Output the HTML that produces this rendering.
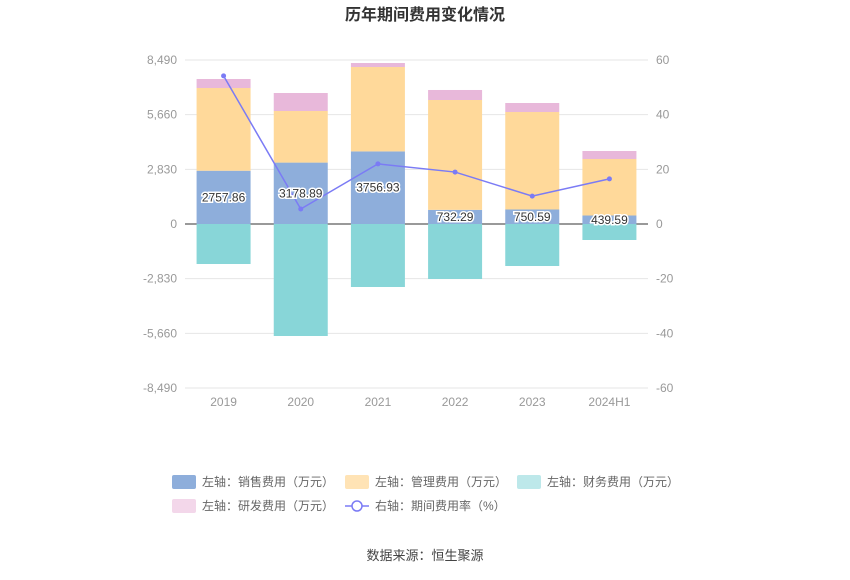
<!DOCTYPE html>
<html><head><meta charset="utf-8"><style>
body{margin:0;background:#fff;font-family:"Liberation Sans","Noto Sans CJK SC",sans-serif;}
svg text{font-family:"Liberation Sans","Noto Sans CJK SC",sans-serif;}
</style></head><body>
<svg id="c" width="850" height="575">
<text x="425" y="20" text-anchor="middle" font-size="16" font-weight="bold" fill="#333">历年期间费用变化情况</text>
<g id="grid"></g><g id="bars"></g><g id="line"></g><g id="labels"></g><g id="legend"></g>
<text x="425" y="560" text-anchor="middle" font-size="13" fill="#444">数据来源：恒生聚源</text>
</svg>
<script>
const categories=["2019","2020","2021","2022","2023","2024H1"];
const sales=[2757.86,3178.89,3756.93,732.29,750.59,439.59];
const mgmt=[4282,2671,4371,5687,5047,2925];
const finance=[-2071,-5798,-3261,-2847,-2174,-828];
const rd=[466,932,207,518,466,414];
const rate=[54.2,5.5,22,19,10.2,16.5];
const leftTicks=[8490,5660,2830,0,-2830,-5660,-8490];
const rightTicks=[60,40,20,0,-20,-40,-60];
const NS="http://www.w3.org/2000/svg";
const X0=185,X1=648,Y0=224,H=164;
const yL=v=>Y0-v/8490*H, yR=v=>Y0-v/60*H;
const step=(X1-X0)/categories.length, xC=i=>X0+step*(i+0.5), bw=54;
function mk(p,tag,a){const e=document.createElementNS(NS,tag);for(const k in a)e.setAttribute(k,a[k]);p.appendChild(e);return e;}
const g=document.getElementById('grid'),b=document.getElementById('bars'),l=document.getElementById('line'),lb=document.getElementById('labels'),lg=document.getElementById('legend');
leftTicks.forEach((t,i)=>{const y=yL(t);
 const ln=mk(g,'line',{x1:X0,x2:X1,y1:y,y2:y,stroke:t===0?'#333':'#e6e6e6'});
 
 
 const tx=mk(g,'text',{x:X0-8,y:y+4,'text-anchor':'end','font-size':12,fill:'#999'});tx.textContent=t.toLocaleString('en-US');
 
 });
rightTicks.forEach(t=>{const tx=mk(g,'text',{x:X1+8,y:yR(t)+4,'font-size':12,fill:'#999'});tx.textContent=t;
 
 });
categories.forEach((c,i)=>{const tx=mk(g,'text',{x:xC(i),y:406,'text-anchor':'middle','font-size':12,fill:'#999'});tx.textContent=c;
 
 
 const x=xC(i)-bw/2;
 const segs=[[0,sales[i],'#8eaedb','bar-sales'],[sales[i],sales[i]+mgmt[i],'#ffd99a','bar-mgmt'],[sales[i]+mgmt[i],sales[i]+mgmt[i]+rd[i],'#e8b8da','bar-rd'],[finance[i],0,'#88d6d8','bar-finance']];
 segs.forEach(s=>{const r=mk(b,'rect',{x:x,y:yL(s[1]),width:bw,height:yL(s[0])-yL(s[1]),fill:s[2]});
  
  });
 const t2=mk(lb,'text',{x:xC(i),y:yL(sales[i]/2)+4,'text-anchor':'middle','font-size':12,fill:'#333',stroke:'#fff','stroke-width':3,'paint-order':'stroke'});
 t2.textContent=sales[i].toFixed(2);
 
 });
const pl=mk(l,'polyline',{points:rate.map((v,i)=>xC(i)+','+yR(v)).join(' '),fill:'none',stroke:'#7b7bf5','stroke-width':1.5});


rate.forEach((v,i)=>{const c=mk(l,'circle',{cx:xC(i),cy:yR(v),r:2.5,fill:'#7b7bf5'});
 
 });
const items=[[172,482,'#8eaedb','左轴：销售费用（万元）','rect'],[345,482,'#ffe3b5','左轴：管理费用（万元）','rect'],[517,482,'#bde8ea','左轴：财务费用（万元）','rect'],[172,506,'#f3d7ea','左轴：研发费用（万元）','rect'],[345,506,'#7b7bf5','右轴：期间费用率（%）','line']];
items.forEach(it=>{const gg=mk(lg,'g',{});
 
 
 if(it[4]==='rect')mk(gg,'rect',{x:it[0],y:it[1]-7,width:24,height:14,rx:2,fill:it[2]});
 else{mk(gg,'line',{x1:it[0],x2:it[0]+24,y1:it[1],y2:it[1],stroke:it[2],'stroke-width':1.5});mk(gg,'circle',{cx:it[0]+12,cy:it[1],r:5,fill:'#fff',stroke:it[2],'stroke-width':1.5});}
 const t=mk(gg,'text',{x:it[0]+30,y:it[1]+4,'font-size':12,fill:'#666'});t.textContent=it[3];});
</script>
</body></html>
